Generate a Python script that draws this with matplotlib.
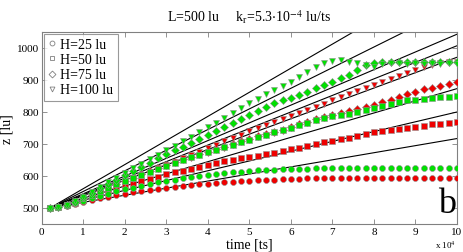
import matplotlib
matplotlib.use('Agg')
import matplotlib.pyplot as plt
import numpy as np

plt.rcParams['font.family'] = ['Liberation Serif', 'DejaVu Serif']
plt.rcParams['mathtext.fontset'] = 'stix'

# time in units of 10^4 ts
t = [0.2, 0.4, 0.6, 0.8, 1.0, 1.2, 1.4, 1.6, 1.8, 2.0,
     2.2, 2.4, 2.6, 2.8, 3.0, 3.2, 3.4, 3.6, 3.8, 4.0,
     4.2, 4.4, 4.6, 4.8, 5.0, 5.2, 5.4, 5.6, 5.8, 6.0,
     6.2, 6.4, 6.6, 6.8, 7.0, 7.2, 7.4, 7.6, 7.8, 8.0,
     8.2, 8.4, 8.6, 8.8, 9.0, 9.2, 9.4, 9.6, 9.8, 10.0]

# red series
red_h25 = [500, 502, 506, 512, 518, 524, 530, 535, 540, 545,
           549, 553, 557, 560, 563, 566, 569, 571, 574, 576,
           578, 580, 582, 584, 585, 587, 588, 589, 590, 591,
           592, 593, 593, 594, 594, 594, 594, 594, 594, 594,
           594, 594, 594, 594, 594, 594, 594, 594, 594, 594]
red_h50 = [500, 503, 508, 516, 525, 534, 543, 552, 560, 568,
           576, 584, 591, 598, 605, 611, 617, 623, 629, 635,
           641, 646, 651, 655, 659, 664, 668, 673, 678, 683,
           688, 693, 699, 705, 710, 715, 720, 726, 730, 736,
           740, 743, 748, 751, 754, 757, 761, 763, 766, 769]
red_h75 = [500, 503, 509, 519, 530, 541, 552, 563, 574, 585,
           595, 605, 615, 625, 634, 643, 652, 660, 668, 676,
           684, 692, 700, 708, 716, 724, 731, 738, 745, 753,
           761, 769, 777, 785, 792, 797, 802, 809, 816, 823,
           831, 839, 847, 856, 864, 871, 876, 881, 888, 895]
red_h100 = [500, 503, 508, 517, 528, 539, 550, 561, 572, 582,
            593, 603, 614, 624, 635, 645, 655, 666, 676, 687,
            697, 708, 718, 729, 740, 751, 760, 769, 778, 787,
            796, 806, 816, 826, 837, 847, 857, 865, 875, 884,
            893, 904, 912, 921, 930, 940, 947, 953, 956, 956]

# green series
green_h25 = [500, 503, 508, 515, 523, 531, 538, 545, 552, 558,
             564, 570, 575, 580, 585, 589, 593, 597, 601, 604,
             607, 610, 612, 614, 616, 618, 619, 620, 621, 622,
             623, 623, 624, 624, 624, 624, 624, 624, 624, 624,
             624, 624, 624, 624, 624, 624, 624, 624, 624, 624]
green_h50 = [500, 503, 509, 519, 530, 541, 552, 563, 574, 584,
             594, 604, 614, 623, 632, 641, 650, 658, 666, 674,
             682, 690, 698, 706, 714, 722, 729, 736, 743, 751,
             759, 766, 774, 782, 788, 790, 795, 800, 807, 813,
             820, 826, 831, 836, 838, 842, 843, 846, 848, 850]
green_h75 = [500, 503, 509, 520, 533, 547, 561, 575, 589, 603,
             616, 629, 642, 655, 668, 680, 692, 704, 716, 728,
             740, 752, 765, 778, 791, 804, 816, 828, 836, 844,
             853, 864, 875, 885, 895, 905, 915, 932, 946, 953,
             956, 956, 956, 956, 956, 956, 956, 956, 956, 956]
green_h100 = [500, 503, 510, 522, 535, 550, 565, 580, 595, 610,
              624, 638, 652, 666, 680, 694, 708, 722, 737, 752,
              767, 782, 798, 814, 828, 842, 855, 868, 882, 895,
              910, 925, 940, 953, 959, 961, 957, 952, 946, 942,
              950, 952, 952, 951, 952, 951, 952, 951, 952, 951]

# straight black lines: value at t=0.2 and at t=10
line_t = [0.2, 10.0]
line_start = [500, 500, 500, 500, 500, 500, 500, 500]
line_end = [1238, 1132, 1043, 1007, 971, 873, 800, 717]

labels = ['H=25 lu', 'H=50 lu', 'H=75 lu', 'H=100 lu']
markers = ['o', 's', 'D', 'v']
msizes = [4.3, 3.9, 3.8, 4.7]

fig = plt.figure(figsize=(4.63, 2.53), dpi=100)
ax = fig.add_axes([0.090, 0.1107, 0.897, 0.7589])

for s, e in zip(line_start, line_end):
    ax.plot(line_t, [s, e], '-', color='black', lw=0.8, zorder=2)

edge = '#909090'
reds = [red_h25, red_h50, red_h75, red_h100]
greens = [green_h25, green_h50, green_h75, green_h100]
for y, m, ms in zip(reds, markers, msizes):
    ax.plot(t, y, m, ls='none', color='#ee0000', mec=edge, mew=0.4,
            ms=ms, zorder=3)
for y, m, ms in zip(greens, markers, msizes):
    ax.plot(t, y, m, ls='none', color='#00e000', mec=edge, mew=0.4,
            ms=ms, zorder=4)

# legend with open markers
handles = []
for m, lab in zip(markers, labels):
    h, = ax.plot([], [], m, ls='none', mfc='white', mec='#808080',
                 mew=0.6, ms=3.5, label=lab)
    handles.append(h)
leg = ax.legend(handles=handles, loc='upper left', fontsize=10,
                frameon=True, fancybox=False, borderpad=0.3,
                handlelength=0.6, handletextpad=0.3, labelspacing=0.15,
                borderaxespad=0.15)
leg.get_frame().set_edgecolor('#808080')
leg.get_frame().set_linewidth(0.8)

ax.set_xlim(0, 10)
ax.set_ylim(450, 1050)
ax.set_xticks(range(0, 11))
ax.set_yticks([500, 600, 700, 800, 900, 1000])
ax.tick_params(direction='in', length=3.5, width=0.6, color='#808080',
               labelsize=8, top=True, right=True, pad=2)
for sp in ax.spines.values():
    sp.set_color('#808080')
    sp.set_linewidth(0.8)

ax.set_xlabel('time [ts]', fontsize=10, labelpad=1)
ax.set_ylabel('z [lu]', fontsize=10, labelpad=2)
ax.set_title(r'L=500 lu     k$_\mathregular{r}$=5.3$\cdot$10$^{-4}$ lu/ts',
             fontsize=10, pad=8)

ax.text(0.975, 0.02, 'b', transform=ax.transAxes, fontsize=26,
        ha='center', va='bottom')
fig.text(0.985, 0.03, r'x 10$^4$', fontsize=6.5, ha='right', va='center')

fig.savefig('out.png', dpi=100)
